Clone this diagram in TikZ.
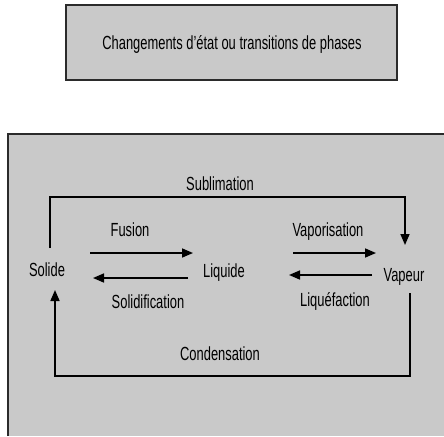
\documentclass[tikz,border=0pt]{standalone}
\usepackage{fontspec}
\setmainfont[FakeStretch=0.68]{Liberation Sans}
\usepackage{xcolor}
\usetikzlibrary{arrows.meta}

\definecolor{fondgris}{HTML}{C9C9C9}
\definecolor{bord}{HTML}{2B2B2B}

\begin{document}
\begin{tikzpicture}[x=1pt,y=-1pt,
	lbl/.style={anchor=base,inner sep=0pt,font=\fontsize{19}{22}\selectfont},
	fl/.style={-{Triangle[length=11pt,width=9pt]},line width=1.6pt},
	cadre/.style={draw=bord,line width=2pt,fill=fondgris}]
	\useasboundingbox (0,0) rectangle (444,436);
	\fill[white] (0,0) rectangle (444,436);

	% titre
	\draw[cadre] (66,5) rectangle (397,80);
	\node[lbl] (titre) at (232,49) {Changements d'état ou transitions de phases};

	% grand cadre
	\fill[fondgris] (8,134) rectangle (444,436);
	\draw[bord,line width=2pt] (8,436) -- (8,134) -- (444,134);

	\node[lbl] (solide) at (47,276) {Solide};
	\node[lbl] (liquide) at (224,277) {Liquide};
	\node[lbl] (vapeur) at (404,281) {Vapeur};

	\node[lbl] (subl) at (220,190) {Sublimation};
	\node[lbl] (fus) at (130,236) {Fusion};
	\node[lbl] (vapo) at (328,236) {Vaporisation};
	\node[lbl] (solid) at (148,308) {Solidification};
	\node[lbl] (liqu) at (335,306) {Liquéfaction};
	\node[lbl] (cond) at (220,360) {Condensation};

	\coordinate (sA) at (50,248);
	\coordinate (sB) at (405,245);
	\coordinate (fA) at (90,253);
	\coordinate (fB) at (193,253);
	\coordinate (soA) at (188,278);
	\coordinate (soB) at (93,278);
	\coordinate (vA) at (293,253);
	\coordinate (vB) at (376,253);
	\coordinate (lA) at (372,275);
	\coordinate (lB) at (289,275);
	\coordinate (cA) at (410,293);
	\coordinate (cB) at (55,290);

	\draw[fl] (sA) |- (220,197) -| (sB);
	\draw[fl] (fA) -- (fB);
	\draw[fl] (soA) -- (soB);
	\draw[fl] (vA) -- (vB);
	\draw[fl] (lA) -- (lB);
	\draw[fl] (cA) |- (220,376) -| (cB);
\end{tikzpicture}
\end{document}
